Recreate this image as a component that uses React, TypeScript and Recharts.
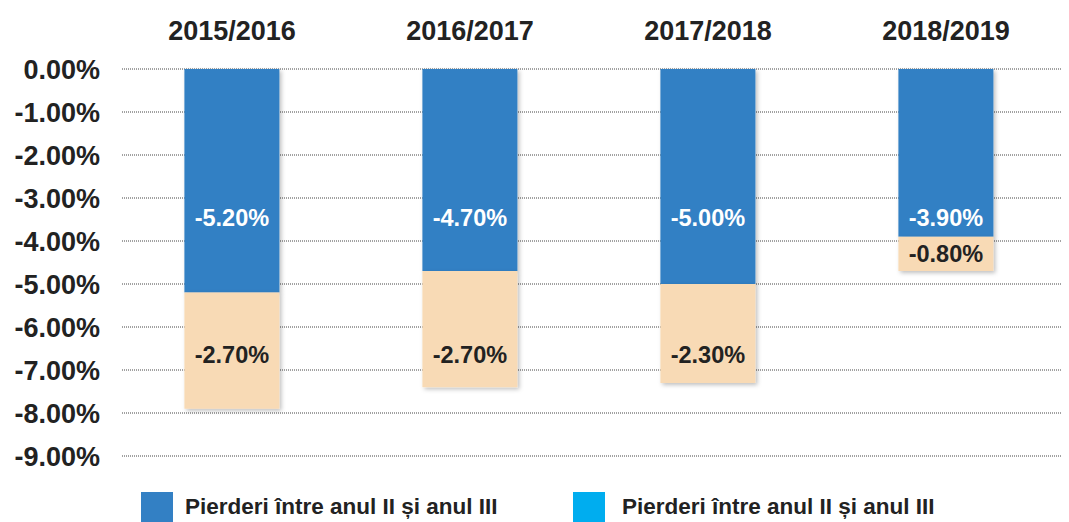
import { BarChart, Bar, XAxis, YAxis, CartesianGrid, LabelList, Legend } from 'recharts';

const years = ['2015/2016', '2016/2017', '2017/2018', '2018/2019'];
const lossA = [-5.2, -4.7, -5.0, -3.9];
const lossB = [-2.7, -2.7, -2.3, -0.8];
const yTicks = [0, -1, -2, -3, -4, -5, -6, -7, -8, -9];
const legendLabels = ['Pierderi între anul II și anul III', 'Pierderi între anul II și anul III'];
const legendColors = ['#3380c4', '#00adef'];

const data = years.map((year, i) => ({ year, a: lossA[i], b: lossB[i] }));

const fmt = (v: number) => v.toFixed(2) + '%';
const font = '"Liberation Sans", Arial, sans-serif';

// labels sit at a fixed level like in the original, not exactly centred
const makeLabel = (fill: string, targetY: number | null) => (props: any) => {
  const { x, y, width, height, value } = props;
  const top = Math.min(y, y + height);
  const bottom = Math.max(y, y + height);
  let cy = (top + bottom) / 2;
  if (targetY !== null && targetY > top + 14 && targetY < bottom - 14) cy = targetY;
  return (
    <text x={x + width / 2} y={cy} fill={fill} textAnchor="middle" dominantBaseline="central"
      fontSize={23.5} fontWeight="bold" fontFamily={font}>
      {fmt(value)}
    </text>
  );
};

const LegendBox = () => (
  <div style={{ position: 'relative', height: 66, fontFamily: font }}>
    {legendLabels.map((label, i) => (
      <div key={i} style={{ position: 'absolute', left: i === 0 ? 133 : 565, top: 36, display: 'flex', alignItems: 'center' }}>
        <div style={{ width: 32, height: 30, background: legendColors[i] }} />
        <span style={{ marginLeft: i === 0 ? 12 : 17, fontSize: 22.5, fontWeight: 'bold', color: '#222', whiteSpace: 'nowrap' }}>{label}</span>
      </div>
    ))}
  </div>
);

export default function App() {
  return (
    <BarChart width={1061} height={514} data={data} margin={{ top: 0, right: 4, bottom: 0, left: 0 }} barCategoryGap="30%">
      <defs>
        <filter id="shadow" x="-10%" y="-10%" width="130%" height="130%">
          <feDropShadow dx="2" dy="2" stdDeviation="2" floodColor="#000" floodOpacity="0.25" />
        </filter>
      </defs>
      <CartesianGrid vertical={false} stroke="#444" strokeDasharray="1 1" x={114} width={943} />
      <XAxis dataKey="year" orientation="top" height={61} axisLine={false} tickLine={false} tickMargin={23}
        tick={{ fontSize: 27, fontWeight: 'bold', fill: '#222', fontFamily: font }} />
      <YAxis domain={[-9, 0]} ticks={yTicks} width={105} axisLine={false} tickLine={false} tickMargin={7}
        tickFormatter={fmt} tick={{ fontSize: 27, fontWeight: 'bold', fill: '#222', fontFamily: font }} />
      <Legend verticalAlign="bottom" height={66} content={<LegendBox />} />
      <Bar dataKey="a" stackId="s" fill="#3380c4" isAnimationActive={false} style={{ filter: 'url(#shadow)' }}>
        <LabelList dataKey="a" content={makeLabel('#fff', 210)} />
      </Bar>
      <Bar dataKey="b" stackId="s" fill="#f8dab5" isAnimationActive={false} style={{ filter: 'url(#shadow)' }}>
        <LabelList dataKey="b" content={makeLabel('#222', 347)} />
      </Bar>
    </BarChart>
  );
}
